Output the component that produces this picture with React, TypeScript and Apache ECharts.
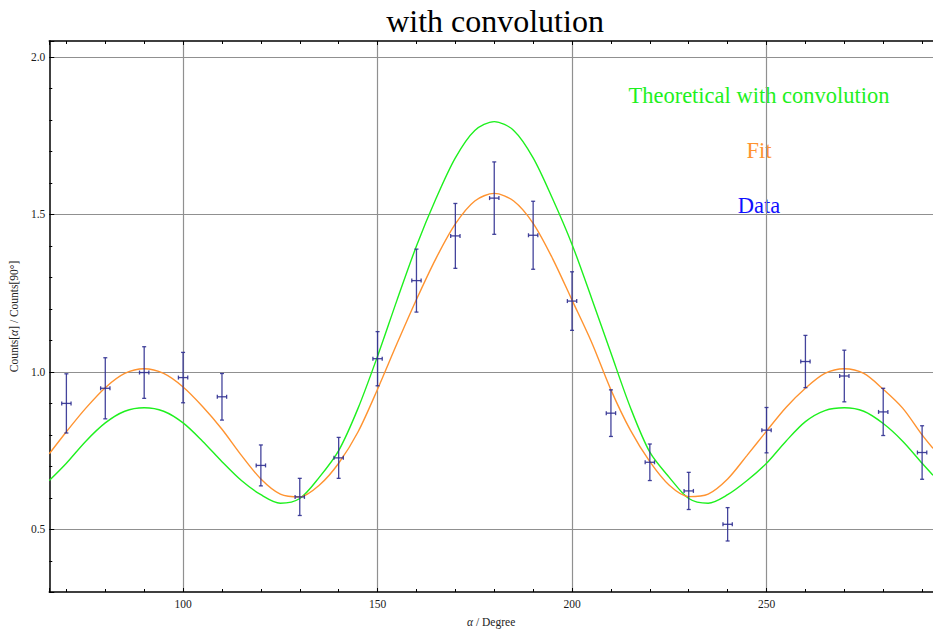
import React, { useEffect, useRef } from "react";
import * as echarts from "echarts";

// ---- data ----
const dataX = [70, 80, 90, 100, 110, 120, 130, 140, 150, 160, 170, 180, 190, 200, 210, 220, 230, 240, 250, 260, 270, 280, 290];
const dataY = [0.900, 0.948, 0.998, 0.982, 0.921, 0.703, 0.603, 0.727, 1.042, 1.290, 1.432, 1.552, 1.434, 1.225, 0.869, 0.713, 0.622, 0.516, 0.815, 1.033, 0.987, 0.873, 0.744];
const dataErr = [0.094, 0.097, 0.082, 0.080, 0.074, 0.065, 0.059, 0.065, 0.086, 0.100, 0.103, 0.115, 0.108, 0.093, 0.074, 0.058, 0.059, 0.053, 0.072, 0.083, 0.082, 0.075, 0.085];
const dataXErr = 1.2;

const curveX = [65.6, 70, 75, 80, 85, 90, 95, 100, 105, 110, 115, 120, 125, 130, 135, 140, 145, 150, 155, 160, 165, 170, 175, 180, 185, 190, 195, 200, 205, 210, 215, 220, 225, 230, 235, 240, 245, 250, 255, 260, 265, 270, 275, 280, 285, 290, 292.8];
const fitY = [0.740, 0.810, 0.885, 0.950, 0.995, 1.010, 0.995, 0.952, 0.890, 0.818, 0.735, 0.660, 0.612, 0.603, 0.640, 0.710, 0.810, 0.945, 1.090, 1.230, 1.360, 1.470, 1.543, 1.567, 1.543, 1.472, 1.360, 1.228, 1.095, 0.943, 0.815, 0.715, 0.640, 0.604, 0.612, 0.660, 0.735, 0.812, 0.887, 0.948, 0.995, 1.010, 0.995, 0.945, 0.885, 0.800, 0.757];
const theoY = [0.655, 0.710, 0.780, 0.838, 0.875, 0.886, 0.875, 0.838, 0.780, 0.715, 0.655, 0.610, 0.583, 0.598, 0.665, 0.750, 0.885, 1.050, 1.228, 1.400, 1.550, 1.680, 1.767, 1.795, 1.767, 1.680, 1.550, 1.405, 1.235, 1.060, 0.887, 0.745, 0.665, 0.598, 0.583, 0.610, 0.655, 0.710, 0.780, 0.842, 0.877, 0.886, 0.875, 0.836, 0.780, 0.710, 0.672];

const titleText = "with convolution";
const legendTexts = ["Theoretical with convolution", "Fit", "Data"];

const SERIF = '"Liberation Serif", "DejaVu Serif", serif';
const GREEN = "#1ef01e";
const ORANGE = "#ff9330";
const ERR = "rgb(48,48,145)";
const GRID = "#909090";

export default function App() {
  const ref = useRef<HTMLDivElement>(null);
  useEffect(() => {
    if (!ref.current) return;
    const chart = echarts.init(ref.current, null, { renderer: "svg" });
    const xMin = 65.6, xMax = 292.8, yMin = 0.301, yMax = 2.051;
    const axisLine = { show: true, lineStyle: { color: "#000", width: 1.5 } };
    const xAxisCommon = {
      type: "value",
      min: xMin,
      max: xMax,
      splitNumber: 5,
      minInterval: 50,
      maxInterval: 50,
      axisLine,
      axisTick: { show: true, inside: true, length: 4, lineStyle: { color: "#000", width: 1 } },
      minorTick: { show: true, splitNumber: 5, length: 3, lineStyle: { color: "#000", width: 1 } },
    };
    const option: any = {
      animation: false,
      backgroundColor: "#fff",
      title: {
        text: titleText,
        left: 490,
        textAlign: "center",
        top: 0,
        textStyle: { fontFamily: SERIF, fontSize: 32, fontWeight: "normal", color: "#000" },
      },
      grid: { left: 47, right: 0, top: 41, bottom: 43, containLabel: false },
      xAxis: [
        {
          ...xAxisCommon,
          position: "bottom",
          name: "{i|α} / Degree",
          nameLocation: "middle",
          nameGap: 24,
          nameTextStyle: {
            fontFamily: SERIF, fontSize: 11.5, color: "#222",
            rich: { i: { fontFamily: SERIF, fontSize: 11.5, fontStyle: "italic", color: "#222" } },
          },
          axisLabel: {
            show: true, showMinLabel: false, showMaxLabel: false, margin: 6,
            fontFamily: SERIF, fontSize: 11.5, color: "#1a1a1a",
          },
          splitLine: { show: true, showMinLine: false, showMaxLine: false, lineStyle: { color: GRID, width: 1.2 } },
        },
        {
          ...xAxisCommon,
          position: "top",
          axisLabel: { show: false },
          splitLine: { show: false },
        },
      ],
      yAxis: {
        type: "value",
        min: yMin,
        max: yMax,
        splitNumber: 4,
        minInterval: 0.5,
        maxInterval: 0.5,
        axisLine,
        axisTick: { show: true, inside: true, length: 5, lineStyle: { color: "#000", width: 1 } },
        minorTick: { show: true, splitNumber: 5, length: 3, lineStyle: { color: "#000", width: 1 } },
        axisLabel: {
          show: true, showMinLabel: false, showMaxLabel: false, margin: 4,
          fontFamily: SERIF, fontSize: 11.5, color: "#1a1a1a",
          formatter: (v: number) => v.toFixed(1),
        },
        splitLine: { show: true, showMinLine: false, showMaxLine: false, lineStyle: { color: GRID, width: 1.2 } },
        name: "Counts[{i|α}] / Counts[90°]",
        nameLocation: "middle",
        nameRotate: 90,
        nameGap: 25,
        nameTextStyle: {
          fontFamily: SERIF, fontSize: 11.5, color: "#222",
          rich: { i: { fontFamily: SERIF, fontSize: 11.5, fontStyle: "italic", color: "#222" } },
        },
      },
      series: [
        {
          name: legendTexts[0],
          type: "line",
          xAxisIndex: 0,
          data: curveX.map((x, i) => [x, theoY[i]]),
          smooth: 0.3,
          showSymbol: false,
          clip: true,
          lineStyle: { color: GREEN, width: 1.4 },
          z: 3,
        },
        {
          name: legendTexts[1],
          type: "line",
          xAxisIndex: 0,
          data: curveX.map((x, i) => [x, fitY[i]]),
          smooth: 0.3,
          showSymbol: false,
          clip: true,
          lineStyle: { color: ORANGE, width: 1.4 },
          z: 4,
        },
        {
          name: legendTexts[2],
          type: "custom",
          xAxisIndex: 0,
          data: dataX.map((x, i) => [x, dataY[i], dataErr[i], dataXErr]),
          encode: { x: 0, y: 1 },
          z: 5,
          renderItem: (params: any, api: any) => {
            const x = api.value(0), y = api.value(1), e = api.value(2), ex = api.value(3);
            const c = api.coord([x, y]);
            const yt = api.coord([x, y + e])[1];
            const yb = api.coord([x, y - e])[1];
            const xl = api.coord([x - ex, y])[0];
            const xr = api.coord([x + ex, y])[0];
            const style = { stroke: ERR, lineWidth: 1.3, opacity: 0.9 };
            const cap = 2;
            const mk = (x1: number, y1: number, x2: number, y2: number) => ({
              type: "line", shape: { x1, y1, x2, y2 }, style,
            });
            return {
              type: "group",
              children: [
                mk(c[0], yt, c[0], yb),
                mk(c[0] - cap, yt, c[0] + cap, yt),
                mk(c[0] - cap, yb, c[0] + cap, yb),
                mk(xl, c[1], xr, c[1]),
                mk(xl, c[1] - cap, xl, c[1] + cap),
                mk(xr, c[1] - cap, xr, c[1] + cap),
              ],
            };
          },
        },
      ],
      graphic: [
        { color: GREEN, y: 95, text: legendTexts[0] },
        { color: ORANGE, y: 150, text: legendTexts[1] },
        { color: "#1010ff", y: 205, text: legendTexts[2] },
      ].map((t) => ({
        type: "text",
        x: 759,
        y: t.y,
        style: {
          text: t.text,
          fill: t.color,
          font: `22.5px ${SERIF}`,
          textAlign: "center",
          align: "center",
          textVerticalAlign: "middle",
          verticalAlign: "middle",
        },
      })),
    };
    chart.setOption(option);
    return () => chart.dispose();
  }, []);
  return (
    <div
      ref={ref}
      style={{ position: "fixed", left: 0, top: 0, width: 933, height: 635, background: "#fff" }}
    />
  );
}
